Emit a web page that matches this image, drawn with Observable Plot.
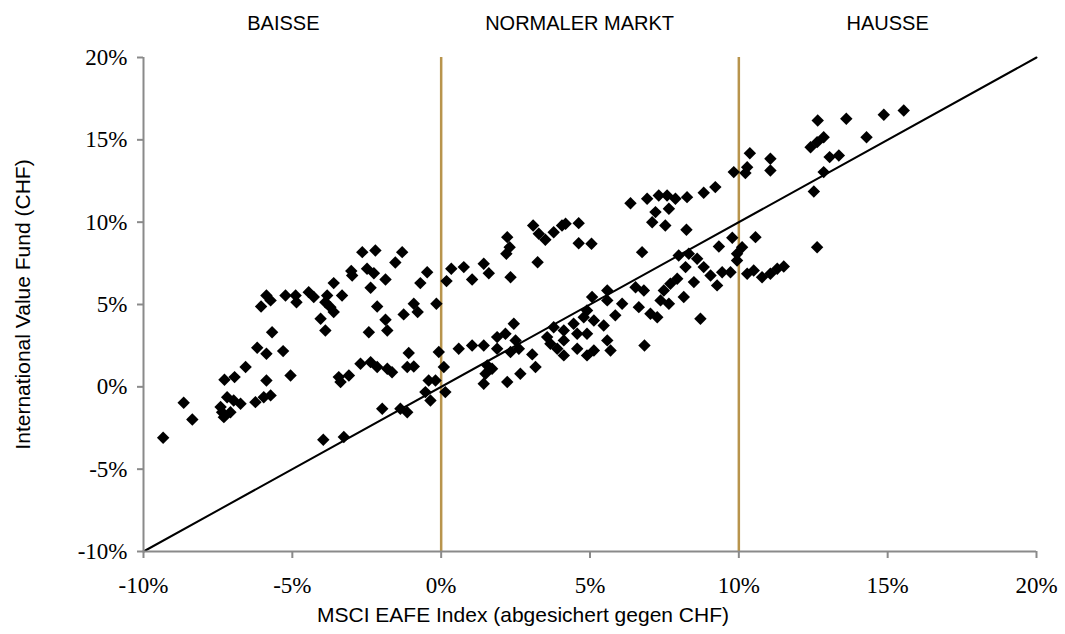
<!DOCTYPE html>
<html>
<head>
<meta charset="utf-8">
<script src="https://cdn.jsdelivr.net/npm/d3@7"></script>
<script src="https://cdn.jsdelivr.net/npm/@observablehq/plot@0.6"></script>
<style>
  html, body { margin: 0; padding: 0; background: #ffffff; }
  text.tick-serif { font-family: 'Liberation Serif', 'Times New Roman', serif !important; }
</style>
</head>
<body>
<div id="chart"></div>
<script>
// ---- data (in percent) ----
const msciEafe = [
  -2.65,-2.21,-1.31,-1.54,-3.02,-2.99,-2.49,-2.26,-1.87,-0.47,-0.70,-3.61,-2.37,-5.87,-6.05,-5.73,-5.23,-4.89,-4.86,-4.45,
  -4.28,-3.83,-3.89,-3.33,-3.72,-3.61,-4.05,-3.89,-2.15,-1.87,-1.81,-2.43,-1.26,-0.92,-0.79,-5.68,-6.18,-5.87,-5.31,-6.57,
  -6.94,-7.28,-5.87,-5.06,-3.44,-3.10,-3.38,-2.71,-2.37,-2.15,-1.81,-1.65,-1.09,-1.14,-0.92,-0.08,-0.42,-8.65,-8.36,-9.34,
  -7.41,-7.19,-6.97,-6.74,-7.30,-7.08,-7.36,-6.24,-5.96,-5.73,-1.98,-1.37,-1.14,-0.53,-0.36,-3.96,-3.27,
  6.36,6.92,7.31,7.59,7.87,8.26,8.82,9.21,7.20,7.65,7.09,7.53,8.24,6.75,3.09,3.28,3.50,3.78,4.06,4.18,
  4.62,4.62,5.05,2.22,2.30,2.19,3.24,2.33,0.34,0.76,1.43,1.60,1.04,0.18,-0.16,9.78,9.33,10.11,9.94,9.72,
  9.44,7.98,8.32,8.60,8.21,8.82,9.05,9.27,8.49,8.15,7.93,7.70,7.48,7.37,7.65,6.81,6.53,6.64,7.03,7.26,
  8.71,5.58,5.58,6.08,5.85,5.07,4.90,3.78,4.12,4.45,4.79,5.13,5.46,4.57,4.90,3.67,3.90,4.12,4.57,4.90,
  5.13,5.58,5.69,4.12,3.56,6.83,2.44,2.16,1.88,2.50,2.33,2.61,3.06,1.43,1.04,0.59,1.88,1.55,1.71,1.49,
  1.43,2.22,2.66,3.17,0.09,-0.19,0.14,
  12.65,13.61,14.87,15.54,12.85,12.63,12.41,13.05,13.36,14.29,12.85,12.52,12.63,10.37,11.06,11.06,10.28,10.22,9.83,10.56,
  9.94,10.28,10.50,10.78,11.06,11.29,11.51
];
const valueFund = [
  8.18,8.28,8.18,7.55,7.03,6.76,7.17,6.90,6.52,6.96,6.30,6.30,6.02,5.55,4.88,5.25,5.55,5.55,5.14,5.75,
  5.45,5.55,5.14,5.55,4.84,4.54,4.13,3.42,4.88,4.07,3.42,3.32,4.40,5.05,4.54,3.32,2.37,2.01,2.17,1.20,
  0.59,0.43,0.39,0.69,0.59,0.69,0.29,1.40,1.50,1.20,1.10,0.89,2.05,1.20,1.24,2.11,0.39,-0.97,-1.98,-3.09,
  -1.23,-0.63,-0.83,-1.03,-1.84,-1.54,-1.54,-0.93,-0.63,-0.52,-1.33,-1.33,-1.54,-0.32,-0.83,-3.21,-3.05,
  11.15,11.42,11.62,11.62,11.42,11.52,11.79,12.13,10.61,10.81,10.00,9.80,9.54,8.18,9.80,9.30,8.93,9.39,9.80,9.90,
  9.94,8.72,8.69,9.09,8.48,8.08,7.57,6.66,7.17,7.27,7.47,6.90,6.52,6.42,5.05,9.05,8.52,8.48,7.67,6.96,
  6.96,7.98,8.08,7.78,7.27,7.27,6.76,6.16,6.36,5.45,6.56,6.26,5.85,5.25,5.05,5.85,6.05,4.84,4.44,4.23,
  4.13,5.85,5.25,5.05,4.34,5.45,4.64,3.62,3.42,3.83,4.23,4.03,3.73,3.22,3.22,2.62,2.31,1.91,2.31,1.91,
  2.21,2.82,2.21,2.82,3.02,2.51,3.83,3.22,3.02,2.82,2.11,2.31,1.97,2.51,2.51,2.31,2.31,1.30,1.10,0.80,
  0.19,0.29,0.80,1.20,1.20,0.39,-0.32,
  16.17,16.28,16.52,16.78,15.16,14.86,14.55,13.95,14.05,15.16,13.04,11.86,8.48,14.19,13.85,13.14,13.34,12.98,13.04,9.09,
  8.08,6.87,7.07,6.66,6.87,7.17,7.31
];
const regimeBounds = [0, 10];
const regimeNames = ["BAISSE", "NORMALER MARKT", "HAUSSE"];
const regimeLabelX = [-5.3, 4.65, 15.0];
const diagonalEnds = [-10, 20];
const xTicks = [-10, -5, 0, 5, 10, 15, 20];
const yTicks = [-10, -5, 0, 5, 10, 15, 20];
const xTitle = "MSCI EAFE Index (abgesichert gegen CHF)";
const yTitle = "International Value Fund (CHF)";

// ---- chart ----
const points = msciEafe.map((x, i) => ({x, y: valueFund[i]}));
const pct = d => (d < 0 ? "-" : "") + Math.abs(d) + "%";
const serif = "'Liberation Serif', 'Times New Roman', serif";
const sans = "'Liberation Sans', Arial, sans-serif";
const axisGrey = "#8a8a8a";

const chart = Plot.plot({
  width: 1065,
  height: 634,
  marginLeft: 143,
  marginRight: 29,
  marginTop: 57,
  marginBottom: 83,
  x: {domain: [-10, 20]},
  y: {domain: [-10, 20]},
  style: {fontFamily: sans, background: "#ffffff", color: "#000000", overflow: "visible"},
  marks: [
    Plot.ruleX(regimeBounds, {y1: -10, y2: 20, stroke: "#b8944c", strokeWidth: 2.5}),
    Plot.line(diagonalEnds, {x: d => d, y: d => d, stroke: "#000000", strokeWidth: 2}),
    Plot.dot(points, {x: "x", y: "y", symbol: "diamond2", r: 5.6, fill: "#000000", stroke: "none"}),
    Plot.ruleX([-10], {stroke: axisGrey, strokeWidth: 2}),
    Plot.ruleY([-10], {stroke: axisGrey, strokeWidth: 2}),
    Plot.axisX({ticks: xTicks, tickFormat: pct, tickSize: 7, tickPadding: 18, stroke: axisGrey, strokeWidth: 2,
      fill: "#000000", fontSize: 23, label: null}),
    Plot.axisY({ticks: yTicks, tickFormat: pct, tickSize: 6, tickPadding: 10, stroke: axisGrey, strokeWidth: 2,
      fill: "#000000", fontSize: 23, label: null}),
    Plot.text(regimeNames, {x: (d, i) => regimeLabelX[i], text: d => d, frameAnchor: "top", lineAnchor: "middle", dy: -34,
      fontSize: 20, fill: "#000000"}),
    Plot.text([xTitle], {text: d => d, frameAnchor: "bottom", lineAnchor: "middle", textAnchor: "middle", dy: 64, dx: -67,
      fontSize: 21, fill: "#000000"}),
    Plot.text([yTitle], {text: d => d, frameAnchor: "left", lineAnchor: "middle", textAnchor: "middle", dx: -120, rotate: -90,
      fontSize: 21, fill: "#000000"})
  ]
});
// tick labels of the reference are set in a Times-like serif face
d3.select(chart).selectAll("text")
  .filter(function() { return /%$/.test(this.textContent.trim()); })
  .classed("tick-serif", true)
  .attr("font-family", serif)
  .style("font-family", serif);
document.getElementById("chart").appendChild(chart);
</script>
</body>
</html>
